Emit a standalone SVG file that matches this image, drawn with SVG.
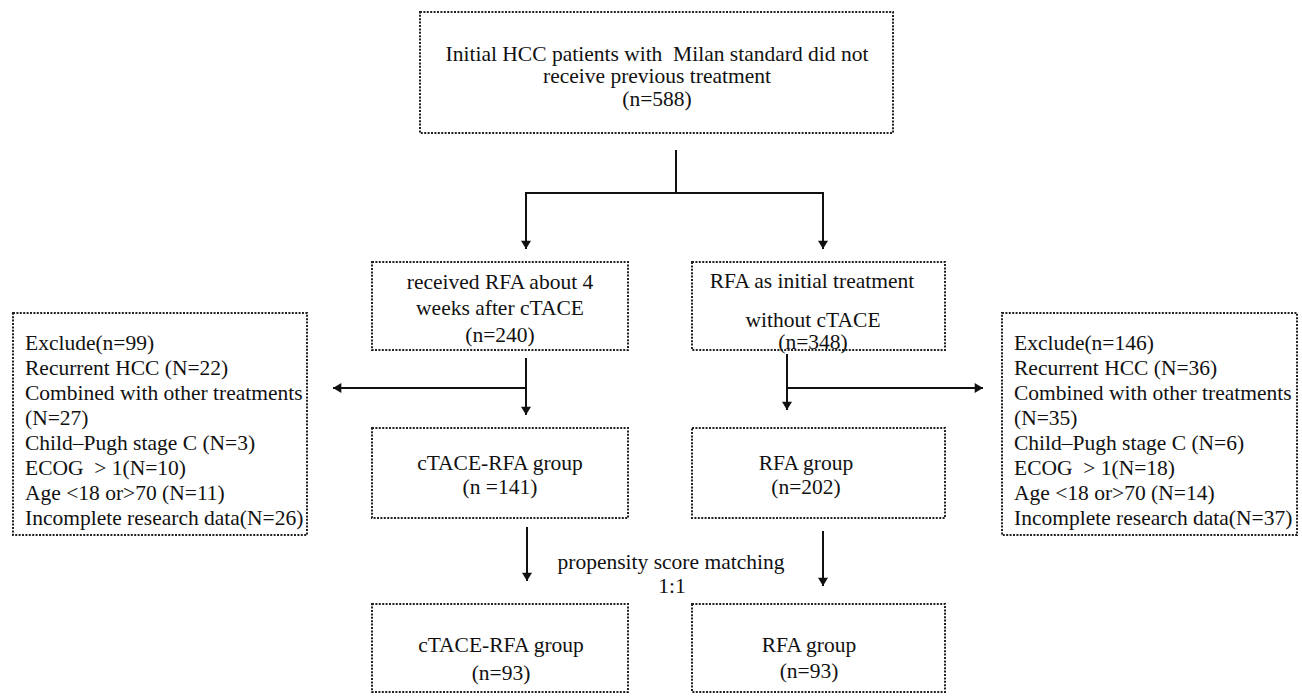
<svg xmlns="http://www.w3.org/2000/svg" width="1302" height="696" viewBox="0 0 1302 696">
<style>
.box{fill:#fff;stroke:#222;stroke-width:2;stroke-dasharray:2 1.4}
text{font-family:"Liberation Serif","Times New Roman",serif;font-size:21.5px;fill:#111;white-space:pre}
.c{text-anchor:middle}
.ln{stroke:#111;stroke-width:2;fill:none}
</style>
<defs>
<marker id="ah" viewBox="0 0 10 12" refX="10" refY="6" markerWidth="12" markerHeight="10" markerUnits="userSpaceOnUse" orient="auto">
<path d="M0,0 L10,6 L0,12 z" fill="#111"/>
</marker>
</defs>
<rect width="1302" height="696" fill="#fff"/>
<g id="connectors">
<line class="ln" x1="676" y1="150" x2="676" y2="193"/>
<line class="ln" x1="526" y1="193" x2="823" y2="193"/>
<line class="ln" x1="526" y1="192" x2="526" y2="249" marker-end="url(#ah)"/>
<line class="ln" x1="823" y1="192" x2="823" y2="249" marker-end="url(#ah)"/>
<line class="ln" x1="526" y1="358" x2="526" y2="415" marker-end="url(#ah)"/>
<line class="ln" x1="526" y1="388" x2="333" y2="388" marker-end="url(#ah)"/>
<line class="ln" x1="787" y1="354" x2="787" y2="410" marker-end="url(#ah)"/>
<line class="ln" x1="787" y1="388" x2="983" y2="388" marker-end="url(#ah)"/>
<line class="ln" x1="527" y1="527" x2="527" y2="581" marker-end="url(#ah)"/>
<line class="ln" x1="823" y1="531" x2="823" y2="586" marker-end="url(#ah)"/>
<text class="c" x="671" y="569">propensity score matching</text>
<text class="c" x="672" y="593">1:1</text>
</g>
<g id="n-initial">
<rect class="box" x="420" y="12" width="473" height="121"/>
<text class="c" x="657" y="61">Initial HCC patients with  Milan standard did not</text>
<text class="c" x="657" y="83">receive previous treatment</text>
<text class="c" x="657" y="106">(n=588)</text>
</g>
<g id="n-ctace">
<rect class="box" x="372" y="262" width="256" height="88"/>
<text class="c" x="500" y="289">received RFA about 4</text>
<text class="c" x="500" y="315">weeks after cTACE</text>
<text class="c" x="500" y="342">(n=240)</text>
</g>
<g id="n-rfa">
<rect class="box" x="692" y="262" width="253" height="88"/>
<text class="c" x="812" y="288">RFA as initial treatment</text>
<text class="c" x="813" y="327">without cTACE</text>
<text class="c" x="813" y="349">(n=348)</text>
</g>
<g id="n-excl-left">
<rect class="box" x="13" y="313" width="294" height="222"/>
<text x="25" y="350">Exclude(n=99)</text>
<text x="25" y="375">Recurrent HCC (N=22)</text>
<text x="25" y="400">Combined with other treatments</text>
<text x="25" y="425">(N=27)</text>
<text x="25" y="450">Child–Pugh stage C (N=3)</text>
<text x="25" y="475">ECOG  &gt; 1(N=10)</text>
<text x="25" y="500">Age &lt;18 or&gt;70 (N=11)</text>
<text x="25" y="525">Incomplete research data(N=26)</text>
</g>
<g id="n-excl-right">
<rect class="box" x="1002" y="313" width="295" height="222"/>
<text x="1014" y="350">Exclude(n=146)</text>
<text x="1014" y="375">Recurrent HCC (N=36)</text>
<text x="1014" y="400">Combined with other treatments</text>
<text x="1014" y="425">(N=35)</text>
<text x="1014" y="450">Child–Pugh stage C (N=6)</text>
<text x="1014" y="475">ECOG  &gt; 1(N=18)</text>
<text x="1014" y="500">Age &lt;18 or&gt;70 (N=14)</text>
<text x="1014" y="525">Incomplete research data(N=37)</text>
</g>
<g id="n-ctace-rfa">
<rect class="box" x="372" y="428" width="256" height="90"/>
<text class="c" x="500" y="470">cTACE-RFA group</text>
<text class="c" x="500" y="494">(n =141)</text>
</g>
<g id="n-rfa-group">
<rect class="box" x="692" y="428" width="253" height="90"/>
<text class="c" x="806" y="470">RFA group</text>
<text class="c" x="806" y="494">(n=202)</text>
</g>
<g id="n-ctace-rfa-psm">
<rect class="box" x="372" y="604" width="256" height="88"/>
<text class="c" x="501" y="652">cTACE-RFA group</text>
<text class="c" x="501" y="680">(n=93)</text>
</g>
<g id="n-rfa-psm">
<rect class="box" x="692" y="604" width="253" height="88"/>
<text class="c" x="809" y="652">RFA group</text>
<text class="c" x="809" y="678">(n=93)</text>
</g>
</svg>
